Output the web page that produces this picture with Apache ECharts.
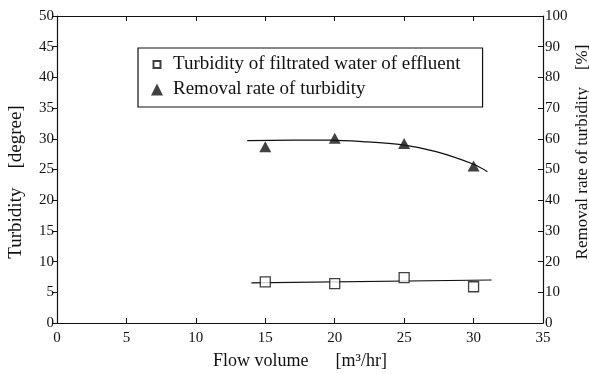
<!DOCTYPE html>
<html>
<head>
<meta charset="utf-8">
<script src="https://cdn.jsdelivr.net/npm/echarts@6/dist/echarts.min.js"></script>
<style>
  html, body { margin: 0; padding: 0; background: #fff; }
  #chart { width: 589px; height: 374px; }
</style>
</head>
<body>
<div id="chart"></div>
<script>
// flow volume [m3/hr] of each measurement
const flowVolume = [15, 20, 25, 30];
// turbidity of filtrated water of effluent [degree]
const turbidity = [6.7, 6.4, 7.4, 5.9];
// removal rate of turbidity [%]
const removalRate = [57.4, 60.2, 58.5, 51.1];

// hand-drawn fitted lines
const turbidityFitX = [14, 31.3];
const turbidityFitY = [6.55, 7.0];
const removalFitX = [13.7, 19.6, 22, 24.9, 27.3, 30, 31];
const removalFitY = [59.4, 59.6, 59.1, 58.0, 55.8, 51.7, 49.3];

const xTicks = { min: 0, max: 35, interval: 5 };
const leftTicks = { min: 0, max: 50, interval: 5 };
const rightTicks = { min: 0, max: 100, interval: 10 };

const legendNames = ['Turbidity of filtrated water of effluent', 'Removal rate of turbidity'];

const font = '"Liberation Serif", "DejaVu Serif", serif';
const ink = '#111';

const zip = (xs, ys) => xs.map((x, i) => [x, ys[i]]);

const chart = echarts.init(document.getElementById('chart'));

const axisCommon = {
  axisLine: { show: true, onZero: false, lineStyle: { color: ink, width: 1.2 } },
  splitLine: { show: false },
  axisLabel: { color: ink, fontFamily: font, fontSize: 15 },
  nameMoveOverlap: false,
  nameTextStyle: { color: ink, fontFamily: font, fontSize: 18 }
};

chart.setOption({
  animation: false,
  backgroundColor: '#fff',
  grid: { left: 57, right: 46, top: 16, bottom: 51, containLabel: false, outerBoundsMode: 'none' },
  legend: {
    orient: 'vertical',
    left: 138,
    top: 48,
    width: 346,
    padding: [7, 22, 8, 12],
    itemGap: 6,
    itemWidth: 12,
    itemHeight: 12,
    borderColor: ink,
    borderWidth: 1.2,
    borderRadius: 0,
    textStyle: { color: ink, fontFamily: font, fontSize: 19, padding: [0, 0, 0, 5] },
    data: [
      { name: legendNames[0], icon: 'path://M0,0L0,0M12,12L12,12M2.5,2.5h7v7h-7z' },
      { name: legendNames[1], icon: 'triangle' }
    ]
  },
  xAxis: [
    Object.assign({}, axisCommon, {
      type: 'value', position: 'bottom',
      min: xTicks.min, max: xTicks.max, interval: xTicks.interval,
      axisTick: { show: true, inside: true, length: 5, lineStyle: { color: ink } },
      name: 'Flow volume\u2003\u2002[m\u00b3/hr]',
      nameLocation: 'middle', nameGap: 29
    }),
    Object.assign({}, axisCommon, {
      type: 'value', position: 'top',
      min: xTicks.min, max: xTicks.max, interval: xTicks.interval,
      axisTick: { show: true, inside: true, length: 5, lineStyle: { color: ink } },
      axisLabel: { show: false }
    })
  ],
  yAxis: [
    Object.assign({}, axisCommon, {
      type: 'value', position: 'left',
      min: leftTicks.min, max: leftTicks.max, interval: leftTicks.interval,
      axisTick: { show: true, inside: false, length: 4, lineStyle: { color: ink } },
      axisLabel: Object.assign({}, axisCommon.axisLabel, { margin: 3 }),
      name: 'Turbidity\u2003[degree]',
      nameLocation: 'middle', nameGap: 31,
      nameTextStyle: Object.assign({}, axisCommon.nameTextStyle, { fontSize: 19, padding: [0, 25, 0, 0] })
    }),
    Object.assign({}, axisCommon, {
      type: 'value', position: 'right',
      min: rightTicks.min, max: rightTicks.max, interval: rightTicks.interval,
      axisTick: { show: true, inside: true, length: 5, lineStyle: { color: ink } },
      axisLabel: Object.assign({}, axisCommon.axisLabel, { margin: 2 }),
      name: 'Removal rate of turbidity\u2003[%]',
      nameLocation: 'middle', nameGap: 31,
      nameTextStyle: Object.assign({}, axisCommon.nameTextStyle, { fontSize: 17, padding: [0, 0, 0, 35] })
    })
  ],
  series: [
    {
      name: 'turbidity fit', type: 'line', xAxisIndex: 0, yAxisIndex: 0,
      data: zip(turbidityFitX, turbidityFitY),
      showSymbol: false, silent: true,
      lineStyle: { color: ink, width: 1.2 }
    },
    {
      name: 'removal fit', type: 'line', xAxisIndex: 0, yAxisIndex: 1,
      data: zip(removalFitX, removalFitY),
      showSymbol: false, silent: true, smooth: 0.3,
      lineStyle: { color: ink, width: 1.2 }
    },
    {
      name: legendNames[0], type: 'scatter', xAxisIndex: 0, yAxisIndex: 0,
      data: zip(flowVolume, turbidity),
      symbol: 'rect', symbolSize: 10,
      itemStyle: { color: '#fff', borderColor: ink, borderWidth: 1.3 },
      z: 5
    },
    {
      name: legendNames[1], type: 'scatter', xAxisIndex: 0, yAxisIndex: 1,
      data: zip(flowVolume, removalRate),
      symbol: 'triangle', symbolSize: [12, 11],
      itemStyle: { color: ink },
      z: 5
    }
  ]
});
</script>
</body>
</html>
